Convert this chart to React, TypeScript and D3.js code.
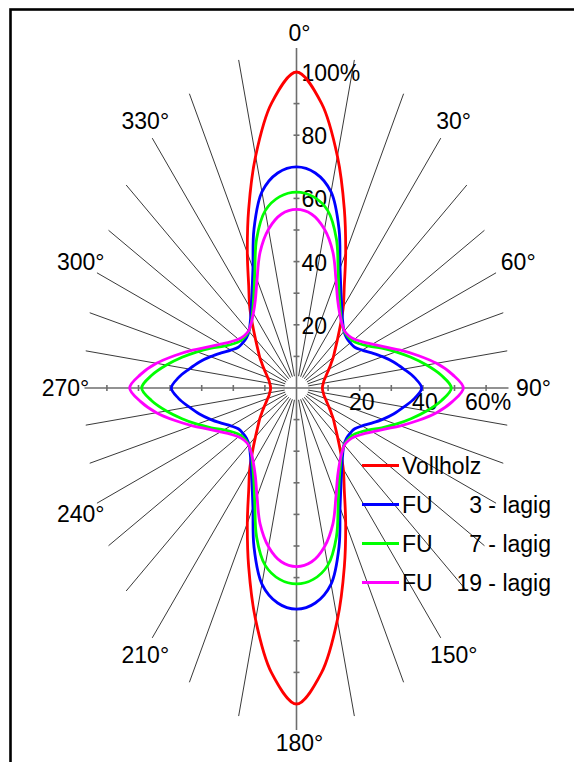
import React from 'react';
import * as d3 from 'd3';

// angles in degrees, 0 = top, clockwise
const angles = d3.range(0, 360, 5);

const vollholz = [
  100, 90.5, 74.5, 58.5, 45.5, 35.8, 29.6, 24.2, 20.2, 17.3, 15.2, 13.3, 11.8, 10.6, 9.7, 9.0, 8.6, 8.3, 8.2,
  8.3, 8.6, 9.0, 9.7, 10.6, 11.8, 13.3, 15.2, 17.3, 20.2, 24.2, 29.6, 35.8, 45.5, 58.5, 74.5, 90.5, 100,
  90.5, 74.5, 58.5, 45.5, 35.8, 29.6, 24.2, 20.2, 17.3, 15.2, 13.3, 11.8, 10.6, 9.7, 9.0, 8.6, 8.3, 8.2,
  8.3, 8.6, 9.0, 9.7, 10.6, 11.8, 13.3, 15.2, 17.3, 20.2, 24.2, 29.6, 35.8, 45.5, 58.5, 74.5, 90.5,
];
const fu3 = [
  70, 68.3, 63, 52, 40.3, 33.3, 28.7, 25.5, 23.4, 22.4, 22.2, 22.5, 24, 26.3, 29, 31.8, 34.5, 37.5, 39.6,
  37.5, 34.5, 31.8, 29, 26.3, 24, 22.5, 22.2, 22.4, 23.4, 25.5, 28.7, 33.3, 40.3, 52, 63, 68.3, 70,
  68.3, 63, 52, 40.3, 33.3, 28.7, 25.5, 23.4, 22.4, 22.2, 22.5, 24, 26.3, 29, 31.8, 34.5, 37.5, 39.6,
  37.5, 34.5, 31.8, 29, 26.3, 24, 22.5, 22.2, 22.4, 23.4, 25.5, 28.7, 33.3, 40.3, 52, 63, 68.3,
];
const fu7 = [
  62, 60.8, 57, 48.8, 38.6, 32, 27.8, 25, 23.5, 23, 23.2, 24.4, 26.5, 29.8, 33.5, 37.5, 41.8, 46, 49,
  46, 41.8, 37.5, 33.5, 29.8, 26.5, 24.4, 23.2, 23, 23.5, 25, 27.8, 32, 38.6, 48.8, 57, 60.8, 62,
  60.8, 57, 48.8, 38.6, 32, 27.8, 25, 23.5, 23, 23.2, 24.4, 26.5, 29.8, 33.5, 37.5, 41.8, 46, 49,
  46, 41.8, 37.5, 33.5, 29.8, 26.5, 24.4, 23.2, 23, 23.5, 25, 27.8, 32, 38.6, 48.8, 57, 60.8,
];
const fu19 = [
  56.5, 55.2, 51, 44.5, 36.5, 30.8, 27.3, 25, 23.6, 23.4, 24, 25.5, 27.8, 30.8, 35, 39.8, 45, 49.5, 52.8,
  49.5, 45, 39.8, 35, 30.8, 27.8, 25.5, 24, 23.4, 23.6, 25, 27.3, 30.8, 36.5, 44.5, 51, 55.2, 56.5,
  55.2, 51, 44.5, 36.5, 30.8, 27.3, 25, 23.6, 23.4, 24, 25.5, 27.8, 30.8, 35, 39.8, 45, 49.5, 52.8,
  49.5, 45, 39.8, 35, 30.8, 27.8, 25.5, 24, 23.4, 23.6, 25, 27.3, 30.8, 36.5, 44.5, 51, 55.2,
];

const seriesNames = ['Vollholz', 'FU', 'FU', 'FU'];
const seriesSuffix = ['', '3 - lagig', '7 - lagig', '19 - lagig'];
const seriesColors = ['#ff0000', '#0000ff', '#00ff00', '#ff00ff'];

const spokeAngles = d3.range(10, 360, 10).filter((a) => a % 90 !== 0);
// 120° is covered by the legend in the original, so it is not shown
const degreeAngles = [0, 30, 60, 90, 150, 180, 210, 240, 270, 300, 330];
const vTicks = [20, 40, 60, 80, 100];
const vTickLabels = ['20', '40', '60', '80', '100%'];
const hTicks = [20, 40, 60];
const hTickLabels = ['20', '40', '60%'];

const W = 574;
const H = 762;
const cx = 296.5;
const cy = 388;
const font = "'Liberation Sans', Arial, sans-serif";

export default function App() {
  const r = d3.scaleLinear().domain([0, 100]).range([0, 316]);
  const rad = (d: number) => (d * Math.PI) / 180;

  // spokes end on an ellipse (plot area was stretched)
  const ell = (deg: number, a: number, b: number) => {
    const s = Math.sin(rad(deg)), c = Math.cos(rad(deg));
    return 1 / Math.sqrt((s * s) / (a * a) + (c * c) / (b * b));
  };
  const pt = (deg: number, rr: number) => [cx + rr * Math.sin(rad(deg)), cy - rr * Math.cos(rad(deg))];

  const line = d3
    .lineRadial<number>()
    .angle((_, i) => rad(angles[i]))
    .radius((v) => r(v))
    .curve(d3.curveCatmullRomClosed.alpha(0.5));

  const allSeries = [vollholz, fu3, fu7, fu19];

  const axisEnds = { up: 340, down: 342, left: 212, right: 212 };
  const tickVals = d3.range(10, 101, 10);

  return (
    <svg width={W} height={H} style={{ position: 'absolute', left: 0, top: 0, background: '#fff' }}
      fontFamily={font} fontSize={23}>
      <rect x={10.5} y={9.5} width={700} height={900} fill="#fff" stroke="#000" strokeWidth={2.6} />

      {spokeAngles.map((a) => {
        const [x1, y1] = pt(a, 12);
        const [x2, y2] = pt(a, ell(a, 212, 341));
        return <line key={a} x1={x1} y1={y1} x2={x2} y2={y2} stroke="#222" strokeWidth={0.9} />;
      })}

      <g stroke="#6e6e6e" strokeWidth={1.6}>
        <line x1={cx} y1={cy - axisEnds.up} x2={cx} y2={cy + axisEnds.down} />
        <line x1={cx - axisEnds.left} y1={cy} x2={cx + axisEnds.right} y2={cy} />
        {tickVals.map((t) => (
          <g key={t}>
            <line x1={cx - 3} x2={cx + 3} y1={cy - r(t)} y2={cy - r(t)} />
            <line x1={cx - 3} x2={cx + 3} y1={cy + r(t)} y2={cy + r(t)} />
            {t <= 60 && <line x1={cx + r(t)} x2={cx + r(t)} y1={cy - 3} y2={cy + 3} />}
            {t <= 60 && <line x1={cx - r(t)} x2={cx - r(t)} y1={cy - 3} y2={cy + 3} />}
          </g>
        ))}
      </g>

      {vTicks.map((t, i) => (
        <text key={'v' + t} x={cx + 5} y={cy - r(t) + 1} dominantBaseline="central" fill="#000">
          {vTickLabels[i]}
        </text>
      ))}
      {hTicks.map((t, i) => (
        <text key={'h' + t} x={cx + r(t) + 2} y={cy + 14} dominantBaseline="central" textAnchor="middle" fill="#000">
          {hTickLabels[i]}
        </text>
      ))}

      {degreeAngles.map((a) => {
        const [x, y] = pt(a, ell(a, 234, 355));
        return (
          <text key={a} x={x + 3} y={y} textAnchor="middle" dominantBaseline="central" fill="#000">
            {a + '°'}
          </text>
        );
      })}

      {allSeries.map((s, i) => (
        <path key={i} d={line(s) || ''} transform={`translate(${cx},${cy})`} fill="none"
          stroke={seriesColors[i]} strokeWidth={2.8} />
      ))}

      {seriesNames.map((n, i) => {
        const y = 465.5 + i * 39;
        return (
          <g key={i}>
            <line x1={362} x2={399} y1={y} y2={y} stroke={seriesColors[i]} strokeWidth={3} />
            <text x={402} y={y} dominantBaseline="central" fill="#000">{n}</text>
            {seriesSuffix[i] && (
              <text x={551} y={y} dominantBaseline="central" textAnchor="end" fill="#000">{seriesSuffix[i]}</text>
            )}
          </g>
        );
      })}
    </svg>
  );
}
